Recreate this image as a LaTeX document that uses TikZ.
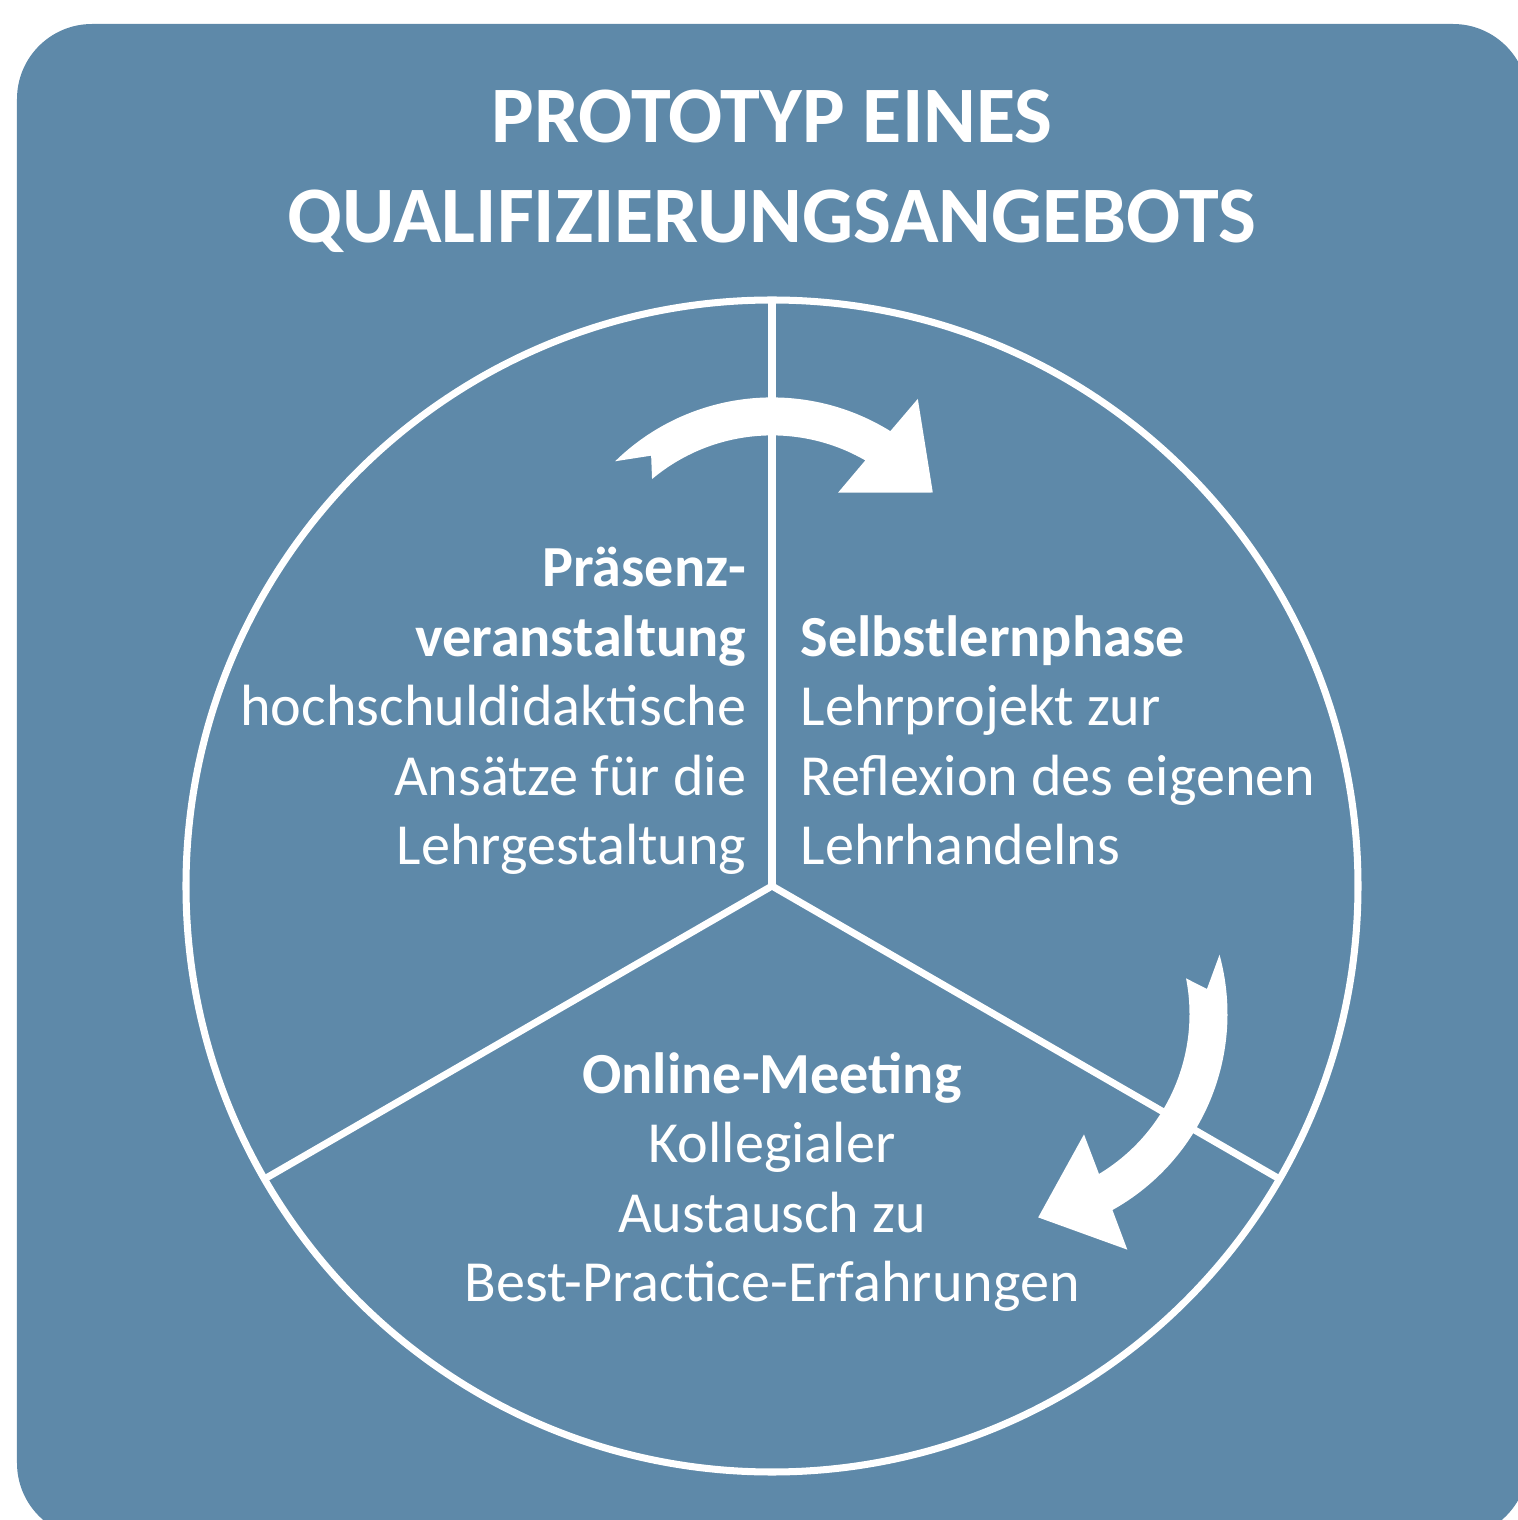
\documentclass[tikz,border=0pt]{standalone}
\usepackage{fontspec}
\setmainfont{Carlito}
\definecolor{panel}{RGB}{94,137,169}
\tikzset{
  lbl/.style={text=white, inner sep=0pt, font=\fontsize{16.55}{19.8}\selectfont},
  ttl/.style={text=white, inner sep=0pt, align=center, font=\fontsize{22.8}{28.5}\selectfont\bfseries},
  rim/.style={draw=white, line width=2pt}
}
\begin{document}
\begin{tikzpicture}
\useasboundingbox (0,0) rectangle (15.17,15.20);
\fill[panel, rounded corners=0.75cm] (0.17,-0.18) rectangle (15.28,14.96);

\node[ttl, anchor=base] (title) at (7.72,12.77) {PROTOTYP EINES\\QUALIFIZIERUNGSANGEBOTS};

\coordinate (c) at (7.72,6.34);
\node[circle, rim, minimum size=11.72cm, inner sep=0pt, outer sep=0pt] (wheel) at (c) {};
\draw[rim] (wheel.center) -- (wheel.90);
\draw[rim] (wheel.center) -- (wheel.210);
\draw[rim] (wheel.center) -- (wheel.330);

% the two bent arrows, the second one turned round the centre
\coordinate (ac) at (7.72,8.98);
\foreach \r in {0,-119} {
\begin{scope}[rotate around={\r:(c)}]
\fill[white] ([shift={(ac)}]134.3:2.246) arc[start angle=134.3, end angle=58.2, radius=2.246]
  -- (9.178,11.211) -- (9.328,10.275) -- (8.380,10.273)
  -- ([shift={(ac)}]60:1.866) arc[start angle=60, end angle=130, radius=1.866]
  -- ([shift={(ac)}]126:2.056) -- cycle;
\end{scope}
}

\node[lbl, anchor=base east, align=right] (praesenz) at (7.47,6.55)
  {\textbf{Präsenz-}\\\textbf{veranstaltung}\\hochschuldidaktische\\Ansätze für die\\Lehrgestaltung};
\node[lbl, anchor=base west, align=left] (selbst) at (8.00,6.55)
  {\textbf{Selbstlernphase}\\Lehrprojekt zur\\Reflexion des eigenen\\Lehrhandelns};
\node[lbl, anchor=base, align=center] (online) at (7.72,2.18)
  {\textbf{Online-Meeting}\\Kollegialer\\Austausch zu\\Best-Practice-Erfahrungen};
\end{tikzpicture}
\end{document}
